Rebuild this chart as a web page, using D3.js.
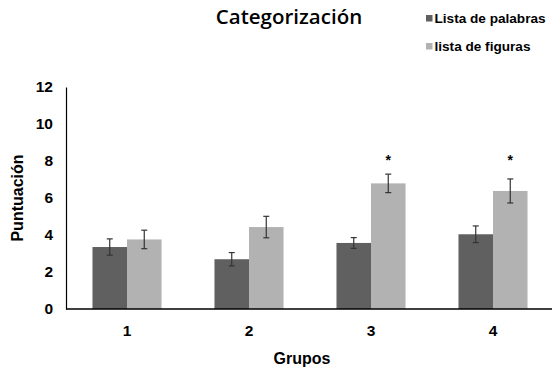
<!DOCTYPE html>
<html>
<head>
<meta charset="utf-8">
<script src="https://cdn.jsdelivr.net/npm/d3@7"></script>
<style>
  body { margin: 0; background: #fff; }
  svg { display: block; font-family: Arial, "Liberation Sans", sans-serif; }
</style>
</head>
<body>
<div id="chart"></div>
<script>
// data
const groups = ['1', '2', '3', '4'];
const seriesNames = ['Lista de palabras', 'lista de figuras'];
const palabras = [3.35, 2.69, 3.57, 4.04];
const palabrasErr = [0.44, 0.36, 0.29, 0.45];
const figuras = [3.76, 4.43, 6.79, 6.38];
const figurasErr = [0.5, 0.58, 0.5, 0.65];
const significant = [false, false, true, true];
const yTicks = [0, 2, 4, 6, 8, 10, 12];

const width = 552, height = 368;
const margin = { top: 87, right: 0, bottom: 58, left: 66 };
const colors = ['#606060', '#b2b2b2'];
const font = 'Arial, "Liberation Sans", sans-serif';

const svg = d3.select('#chart').append('svg')
  .attr('width', width)
  .attr('height', height);

const x0 = d3.scaleBand()
  .domain(groups)
  .range([margin.left, 554])
  .paddingInner(0.434)
  .paddingOuter(0.217);

const x1 = d3.scaleBand()
  .domain(seriesNames)
  .range([0, x0.bandwidth()]);

const y = d3.scaleLinear()
  .domain([0, 12])
  .range([height - margin.bottom - 1, margin.top]);

const rows = groups.map((g, i) => ({
  group: g,
  vals: [
    { name: seriesNames[0], v: palabras[i], e: palabrasErr[i], c: colors[0] },
    { name: seriesNames[1], v: figuras[i], e: figurasErr[i], c: colors[1] }
  ],
  sig: significant[i]
}));

// bars
const gGroup = svg.append('g')
  .selectAll('g')
  .data(rows)
  .join('g')
  .attr('transform', d => `translate(${x0(d.group)},0)`);

gGroup.selectAll('rect')
  .data(d => d.vals)
  .join('rect')
  .attr('x', d => x1(d.name))
  .attr('y', d => y(d.v))
  .attr('width', x1.bandwidth())
  .attr('height', d => y(0) - y(d.v))
  .attr('fill', d => d.c);

// error bars
const err = gGroup.selectAll('g.err')
  .data(d => d.vals)
  .join('g')
  .attr('class', 'err')
  .attr('stroke', '#333')
  .attr('stroke-width', 1.2);

err.append('line')
  .attr('x1', d => x1(d.name) + x1.bandwidth() / 2)
  .attr('x2', d => x1(d.name) + x1.bandwidth() / 2)
  .attr('y1', d => y(d.v + d.e))
  .attr('y2', d => y(d.v - d.e));

[1, -1].forEach(s => {
  err.append('line')
    .attr('x1', d => x1(d.name) + x1.bandwidth() / 2 - 3)
    .attr('x2', d => x1(d.name) + x1.bandwidth() / 2 + 3)
    .attr('y1', d => y(d.v + s * d.e))
    .attr('y2', d => y(d.v + s * d.e));
});

// asterisks
gGroup.filter(d => d.sig)
  .append('text')
  .attr('x', x1(seriesNames[1]) + x1.bandwidth() / 2)
  .attr('y', 165)
  .attr('text-anchor', 'middle')
  .style('font-size', '14px')
  .style('font-weight', 'bold')
  .text('*');

// axes
const xAxis = svg.append('g')
  .attr('transform', `translate(0,${y(0)})`)
  .call(d3.axisBottom(x0).tickSize(0).tickPadding(16));
xAxis.select('.domain').attr('d', `M${margin.left},0H${width}`).attr('stroke', '#000').attr('stroke-width', 1.5);
xAxis.selectAll('text').attr('fill', '#000')
  .style('font-size', '15.5px').style('font-weight', 'bold').style('font-family', font);

const yAxis = svg.append('g')
  .attr('transform', `translate(${margin.left},0)`)
  .call(d3.axisLeft(y).tickValues(yTicks).tickSize(0).tickPadding(13));
yAxis.select('.domain').attr('stroke', '#000').attr('stroke-width', 1.2);
yAxis.selectAll('text').attr('fill', '#000')
  .style('font-size', '15.5px').style('font-weight', 'bold').style('font-family', font);

// axis titles
svg.append('text')
  .attr('transform', `translate(23,${(y(0) + y(12)) / 2}) rotate(-90)`)
  .attr('text-anchor', 'middle')
  .style('font-size', '16px')
  .style('font-weight', 'bold')
  .text('Puntuación');

svg.append('text')
  .attr('x', 302)
  .attr('y', 364)
  .attr('text-anchor', 'middle')
  .style('font-size', '16px')
  .style('font-weight', 'bold')
  .text('Grupos');

// title
svg.append('text')
  .attr('x', 289)
  .attr('y', 24)
  .attr('text-anchor', 'middle')
  .style('font-size', '20.5px')
  .style('font-weight', '600')
  .style('font-family', '"Open Sans", "Noto Sans", sans-serif')
  .text('Categorización');

// legend
const legend = svg.append('g')
  .selectAll('g')
  .data(seriesNames)
  .join('g')
  .attr('transform', (d, i) => `translate(426,${15 + i * 28})`);

legend.append('rect')
  .attr('width', 6.5)
  .attr('height', 6.5)
  .attr('fill', (d, i) => colors[i]);

legend.append('text')
  .attr('x', 8.5)
  .attr('y', 8)
  .style('font-size', '13.6px')
  .style('font-weight', 'bold')
  .text(d => d);
</script>
</body>
</html>
